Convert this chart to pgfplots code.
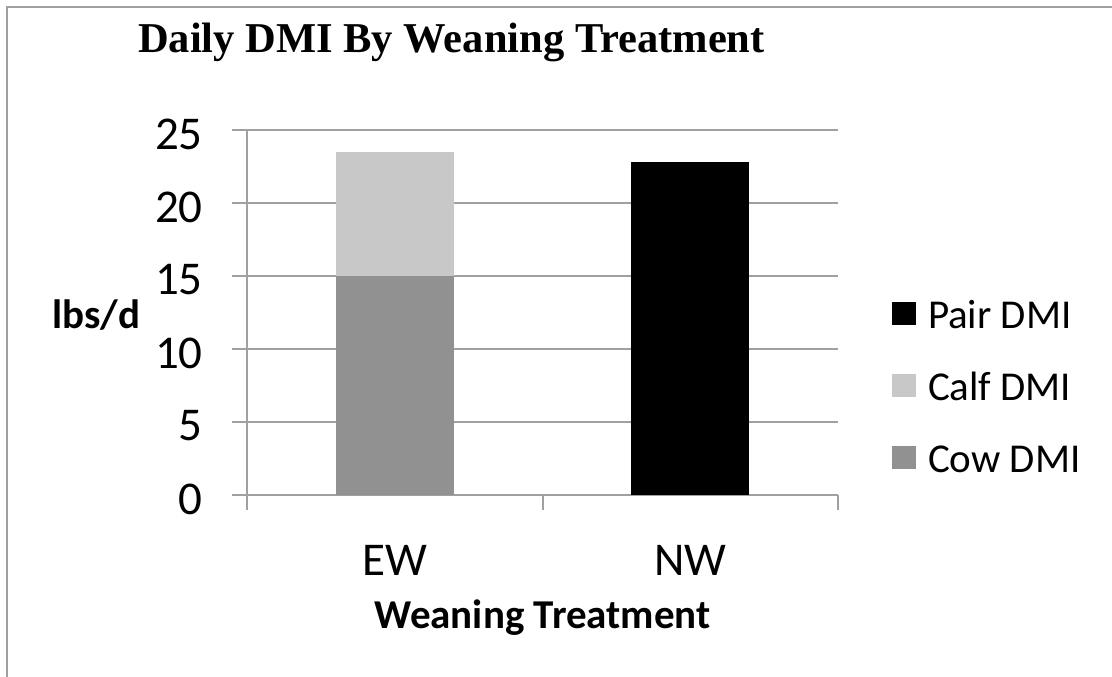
\documentclass[border=0pt]{standalone}
\usepackage{fontspec}
\setmainfont{Carlito}
\newfontfamily\titlefont{Liberation Serif}
\usepackage{pgfplots}
\pgfplotsset{compat=1.18}
\definecolor{cowc}{HTML}{919191}
\definecolor{calfc}{HTML}{C8C8C8}
\definecolor{gridc}{HTML}{A0A0A0}
\begin{document}
\begin{tikzpicture}[x=1pt,y=1pt]
\useasboundingbox (0,0) rectangle (1112,677);
\draw[gridc, line width=2pt] (7,-5) -- (7,670) -- (1120,670);
\node[anchor=base west, inner sep=0pt, font=\titlefont\bfseries\fontsize{42.5pt}{50pt}\selectfont] at (138,624) {Daily DMI By Weaning Treatment};
\begin{axis}[
  at={(247pt,182pt)}, anchor=south west, scale only axis, width=591pt, height=365pt,
  xmin=-0.5, xmax=1.5, ymin=0, ymax=25,
  ybar stacked, bar width=118pt,
  axis x line=bottom, axis y line=left,
  axis line style={gridc, line width=2pt, -},
  ymajorgrids, grid style={gridc, line width=2pt},
  ytick={0,5,...,25},
  xtick={-0.5,0.5,1.5}, xticklabels={},
  extra x ticks={0,1}, extra x tick labels={EW,NW},
  extra x tick style={tick style={draw=none}, grid=none},
  tick align=outside, major tick length=15pt, tick style={gridc, line width=2pt},
  /pgf/number format/assume math mode=true,
  ticklabel style={font=\fontsize{47pt}{56pt}\selectfont},
  yticklabel style={anchor=east, inner sep=0pt, xshift=-29pt, yshift=-4pt},
  xticklabel style={anchor=north, inner sep=0pt, yshift=-35pt},
  xlabel={Weaning Treatment}, ylabel={lbs/d},
  every axis x label/.style={at={(axis description cs:0.5,-0.3644)}, anchor=base, inner sep=0pt, font=\bfseries\fontsize{41pt}{49pt}\selectfont},
  every axis y label/.style={at={(axis description cs:-0.2555,0.4548)}, anchor=base, inner sep=0pt, font=\bfseries\fontsize{41pt}{49pt}\selectfont},
  reverse legend, legend cell align=left,
  legend style={at={(axis description cs:1.0914,0.5288)}, anchor=north west, draw=none, fill=none, inner sep=0pt, outer sep=0pt, row sep=45pt,
    nodes={inner sep=0pt, text height=26pt, text depth=0pt, font=\fontsize{41pt}{49pt}\selectfont},
    /tikz/every odd column/.append style={column sep=12pt}},
  legend image code/.code={\fill[#1] (0pt,-9pt) rectangle (24pt,14pt);},
]
\addplot[fill=cowc, draw=none] coordinates {(0,15.0) (1,0)};
\addplot[fill=calfc, draw=none] coordinates {(0,8.5) (1,0)};
\addplot[fill=black, draw=none] coordinates {(0,0) (1,22.8)};
\legend{Cow DMI, Calf DMI, Pair DMI}
\end{axis}
\end{tikzpicture}
\end{document}
